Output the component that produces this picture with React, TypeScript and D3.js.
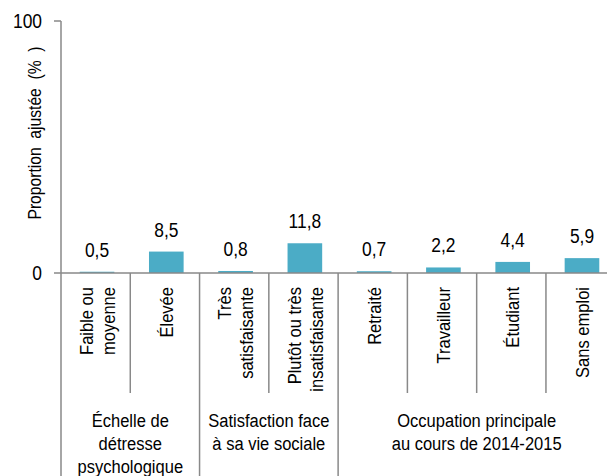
import React from 'react';
import * as d3 from 'd3';

// categories (x), lines of each label
const categories: string[][] = [
  ['Faible ou', 'moyenne'],
  ['Élevée'],
  ['Très', 'satisfaisante'],
  ['Plutôt ou très', 'insatisfaisante'],
  ['Retraité'],
  ['Travailleur'],
  ['Étudiant'],
  ['Sans emploi'],
];
const values = [0.5, 8.5, 0.8, 11.8, 0.7, 2.2, 4.4, 5.9];
const valueLabels = ['0,5', '8,5', '0,8', '11,8', '0,7', '2,2', '4,4', '5,9'];

// groups: label lines + index range of categories
const groups = [
  { lines: ['Échelle de', 'détresse', 'psychologique'], from: 0, to: 2 },
  { lines: ['Satisfaction face', 'à sa vie sociale'], from: 2, to: 4 },
  { lines: ['Occupation principale', 'au cours de 2014-2015'], from: 4, to: 8 },
];
const yTicks = [0, 100];

const FONT = '"Liberation Sans", Arial, sans-serif';
const AXIS = '#898989';
const BAR = '#4BACC6';
const SQ = 0.87; // narrow look

export default function App() {
  const width = 607;
  const height = 476;
  const x0 = 61;
  const x1 = 618;
  const yTop = 21;
  const yBase = 273;

  const idx = categories.map((_, i) => String(i));
  const x = d3.scaleBand().domain(idx).range([x0, x1]).paddingInner(0.5).paddingOuter(0.27);
  const step = x.step();
  const edge = (i: number) => x0 + i * step;
  const y = d3.scaleLinear().domain([0, 100]).range([yBase, yTop]);

  return (
    <svg width={width} height={height} style={{ position: 'absolute', left: 0, top: 0 }} fontFamily={FONT}>
      {/* bars */}
      {values.map((v, i) => (
        <rect key={i} x={x(String(i))} y={y(v)} width={x.bandwidth()} height={yBase - y(v)} fill={BAR} />
      ))}
      {/* value labels */}
      {values.map((v, i) => (
        <text key={i} transform={`translate(${(x(String(i)) as number) + x.bandwidth() / 2},${y(v) - 15}) scale(${SQ},1)`} textAnchor="middle" fontSize={20} fill="#000">
          {valueLabels[i]}
        </text>
      ))}
      {/* y axis */}
      <line x1={x0} x2={x0} y1={yTop} y2={height} stroke={AXIS} strokeWidth={1.5} />
      {yTicks.map((t) => (
        <g key={t}>
          <line x1={x0 - 7} x2={x0} y1={y(t)} y2={y(t)} stroke={AXIS} strokeWidth={1.5} />
          <text transform={`translate(${x0 - 19},${y(t)}) scale(${SQ},1)`} dy="0.35em" textAnchor="end" fontSize={20} fill="#000">{t}</text>
        </g>
      ))}
      {/* x axis */}
      <line x1={x0} x2={width} y1={yBase} y2={yBase} stroke={AXIS} strokeWidth={1.5} />
      {/* dividers */}
      {categories.map((_, i) => {
        if (i === 0) return null;
        const isGroup = groups.some((g) => g.from === i);
        return (
          <line key={i} x1={edge(i)} x2={edge(i)} y1={yBase} y2={isGroup ? height : 393} stroke={AXIS} strokeWidth={1.5} />
        );
      })}
      {/* category labels */}
      {categories.map((lines, i) => {
        const cx = (x(String(i)) as number) + x.bandwidth() / 2;
        return lines.map((ln, j) => {
          const off = (j - (lines.length - 1) / 2) * 22;
          return (
            <text key={i + '-' + j} transform={`translate(${cx + off},287) rotate(-90) scale(${SQ},1)`} dy="0.35em" textAnchor="end" fontSize={19} fill="#000">
              {ln}
            </text>
          );
        });
      })}
      {/* group labels */}
      {groups.map((g, i) => {
        const cx = (edge(g.from) + edge(g.to)) / 2;
        return g.lines.map((ln, j) => (
          <text key={i + '-' + j} transform={`translate(${cx},${420 + j * 23}) scale(${SQ},1)`} dy="0.35em" textAnchor="middle" fontSize={19} fill="#000">
            {ln}
          </text>
        ));
      })}
      {/* y title */}
      <text transform={`translate(35,133) rotate(-90) scale(${SQ},1)`} dy="0.35em" textAnchor="middle" fontSize={18} fill="#000" wordSpacing={5}>
        Proportion ajustée (% )
      </text>
    </svg>
  );
}
